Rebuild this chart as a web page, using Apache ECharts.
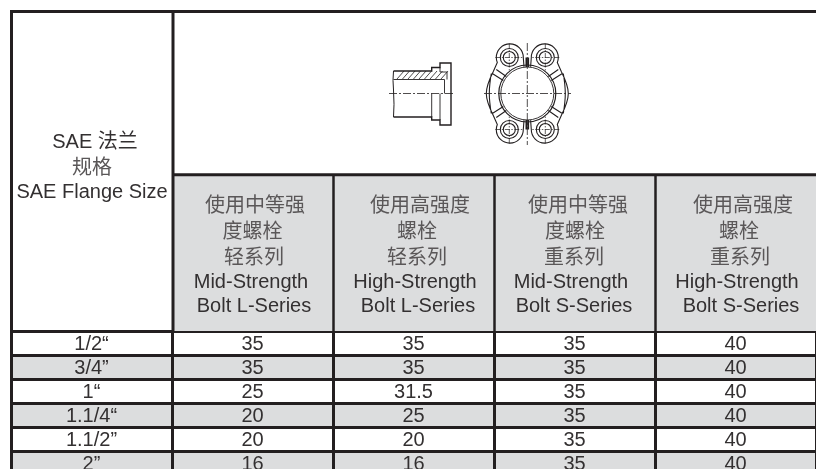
<!DOCTYPE html>
<html>
<head>
<meta charset="utf-8">
<style>
  html, body { margin: 0; background: #fff; }
  #table_chart { width: 816px; height: 469px; }
</style>
<script src="https://cdn.jsdelivr.net/npm/echarts@6/dist/echarts.min.js"></script>
</head>
<body>
<div id="table_chart"></div>
<script>
// table data
var columns = ["size", "midL", "highL", "midS", "highS"];
var sizes = ["1/2“", "3/4”", "1“", "1.1/4“", "1.1/2”", "2”"];
var midL = ["35", "35", "25", "20", "20", "16"];
var highL = ["35", "35", "31.5", "25", "20", "16"];
var midS = ["35", "35", "35", "35", "35", "35"];
var highS = ["40", "40", "40", "40", "40", "40"];

var sizeHeader = ["SAE 法兰", "规格", "SAE Flange Size"];
var colHeaders = [
  ["使用中等强", "度螺栓", "轻系列", "Mid-Strength", "Bolt L-Series"],
  ["使用高强度", "螺栓", "轻系列", "High-Strength", "Bolt L-Series"],
  ["使用中等强", "度螺栓", "重系列", "Mid-Strength", "Bolt S-Series"],
  ["使用高强度", "螺栓", "重系列", "High-Strength", "Bolt S-Series"]
];

var INK = "#231f20", GREY = "#dcddde";
var FONT = '"Liberation Sans", "Noto Sans CJK SC", sans-serif';

var cells = [];
[sizes, midL, highL, midS, highS].forEach(function (col, c) {
  col.forEach(function (v, r) { cells.push([c, r, v]); });
});

// header texts and frame
function headerText(x, y, s) {
  return {
    type: "text", x: x, y: y, z: 10,
    style: {text: s, fill: /[\u4e00-\u9fff]/.test(s) && !/SAE/.test(s) ? "#5a5758" : "#333031", font: "20px " + FONT, align: "center", verticalAlign: "middle"}
  };
}
function rule(x1, y1, x2, y2, w) {
  return {type: "line", z: 9, shape: {x1: x1, y1: y1, x2: x2, y2: y2}, style: {stroke: INK, lineWidth: w}};
}
var graphics = [
  {type: "rect", z: 1, shape: {x: 173, y: 175, width: 643, height: 156}, style: {fill: GREY}},
  rule(10, 11.5, 816, 11.5, 3),
  rule(11.5, 10, 11.5, 331, 3),
  rule(173, 10, 173, 331, 3),
  rule(173, 174.7, 816, 174.7, 3),
  rule(333.5, 175, 333.5, 331, 2.5),
  rule(494.5, 175, 494.5, 331, 2.5),
  rule(655.5, 175, 655.5, 331, 2.5)
];
var sizeX = [95, 92, 92], sizeY = [142, 168, 192];
sizeHeader.forEach(function (s, i) { graphics.push(headerText(sizeX[i], sizeY[i], s)); });
var headX = [
  [255, 252.5, 254, 251, 254],
  [420, 417, 417, 415, 418],
  [578, 575, 574, 571, 574],
  [743, 739, 740, 737, 741]
];
var headY = [206, 232, 258, 282, 306];
colHeaders.forEach(function (col, c) {
  col.forEach(function (s, i) { graphics.push(headerText(headX[c][i], headY[i], s)); });
});

// the flange drawing in the header
function lines(d, w, dash) {
  return {type: "path", shape: {pathData: d}, style: {fill: "none", stroke: INK, lineWidth: w, lineDash: dash || null}};
}
var hatch = "";
for (var hx = 397; hx < 442; hx += 5.5) {
  hatch += "M" + hx + " 79L" + (hx + 7) + " 71";
}
var drawing = [
  lines("M393.5 71L431.7 71L431.7 67.5L440 67.5L440 63L451 63L451 125L440 125L440 120L431.7 120L431.7 117L393.5 117", 1.4),
  lines("M393.5 71Q392.5 80 393.5 90Q394.5 105 393.5 117", 1),
  lines("M393.5 79.5L444.5 79.5L444.5 93.5M431.7 93.5L431.7 117M440 93.5L440 120M440 67.5L440 72L447 72L447 79.5", 0.9),
  lines(hatch, 0.8),
  lines("M389 93.5L455 93.5", 0.8, [8, 2, 2, 2])
];
// one quarter of the flange, mirrored four times around the bore centre
var quarter = "M-3.3 -26.7L-4 -36A13.5 13.5 0 1 0 -30 -31L-34 -22Q-41 -8 -41 0" +
  "M-36 -20Q-38 -8 -38 0M-35 -20L-24 -13M-31 -24L-21 -17" +
  "M-9 -36A9 9 0 1 0 -27 -36A9 9 0 1 0 -9 -36" +
  "M-12 -36A6 6 0 1 0 -24 -36A6 6 0 1 0 -12 -36";
[[1, 1], [-1, 1], [1, -1], [-1, -1]].forEach(function (m) {
  drawing.push({
    type: "group", x: 527.3, y: 93.5, scaleX: m[0], scaleY: m[1],
    children: [
      lines(quarter, 1.1),
      lines("M-18 -50L-18 -22M-32 -36L-4 -36", 0.7, [5, 1.5, 1.5, 1.5]),
      {type: "rect", shape: {x: -1.8, y: -36, width: 1.8, height: 9.5}, style: {fill: INK}}
    ]
  });
});
drawing.push(
  {type: "circle", shape: {cx: 527.3, cy: 93.5, r: 28.5}, style: {fill: "none", stroke: INK, lineWidth: 1.2}},
  {type: "circle", shape: {cx: 527.3, cy: 93.5, r: 26.5}, style: {fill: "none", stroke: INK, lineWidth: 0.9}},
  lines("M484 93.5L571 93.5M527.3 43L527.3 145", 0.8, [8, 2, 2, 2])
);

var chart = echarts.init(document.getElementById("table_chart"));
chart.setOption({
  animation: false,
  grid: {left: 11, top: 331, width: 805, height: 144, outerBoundsMode: "none"},
  xAxis: {
    type: "category", data: columns, position: "top",
    axisLine: {show: false}, axisTick: {show: false}, axisLabel: {show: false},
    splitLine: {show: true, lineStyle: {color: INK, width: 3}}
  },
  yAxis: {
    type: "category", data: sizes, inverse: true,
    axisLine: {show: false}, axisTick: {show: false}, axisLabel: {show: false},
    splitLine: {show: true, lineStyle: {color: INK, width: 3}},
    splitArea: {show: true, areaStyle: {color: ["#ffffff", GREY]}}
  },
  graphic: graphics,
  series: [{
    type: "custom",
    clip: false,
    data: cells,
    encode: {x: 0, y: 1},
    renderItem: function (params, api) {
      var p = api.coord([api.value(0), api.value(1)]);
      return {
        type: "text", x: p[0], y: p[1] + 1,
        style: {text: cells[params.dataIndex][2], fill: "#333031", font: "20px " + FONT, align: "center", verticalAlign: "middle"}
      };
    }
  }, {
    type: "custom",
    coordinateSystem: "none",
    data: [0],
    silent: true,
    renderItem: function () {
      return {type: "group", children: drawing};
    }
  }]
});
</script>
</body>
</html>
